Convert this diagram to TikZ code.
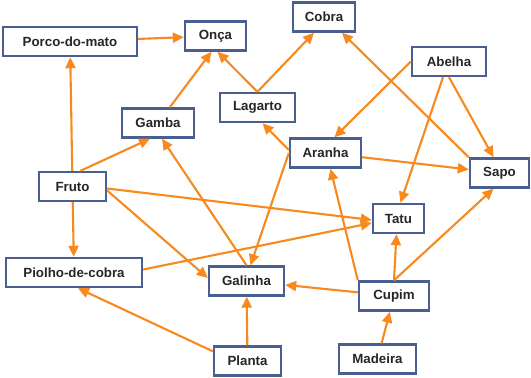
\documentclass[tikz,border=0pt]{standalone}
\usepackage{fontspec}
\setmainfont{Liberation Sans}
\usetikzlibrary{arrows.meta}
\definecolor{borde}{HTML}{4A5F91}
\definecolor{flechas}{HTML}{F7891E}
\definecolor{letra}{HTML}{262626}
\tikzset{
	especie/.style={draw=borde, line width=2.4pt, fill=white, text=letra,
		font=\fontsize{13.3}{15}\selectfont\bfseries, minimum height=29pt, inner sep=0pt},
	flecha/.style={draw=flechas, line width=2.1pt, -{Triangle[length=11pt,width=10pt]}}
}
\begin{document}
\begin{tikzpicture}[x=1pt, y=-1pt]
				\useasboundingbox[fill=white] (0,0) rectangle (531,378);
				\node[especie, minimum width=134pt] (porco)   at (70,41.5)    {Porco-do-mato};
				\node[especie, minimum width=61pt]  (onca)    at (215.5,36)   {Onça};
				\node[especie, minimum width=72pt]  (gamba)   at (158,123)    {Gamba};
				\node[especie, minimum width=75pt]  (lagarto) at (257.5,107.5) {Lagarto};
				\node[especie, minimum width=62pt]  (cobra)   at (324,17)     {Cobra};
				\node[especie, minimum width=74pt]  (abelha)  at (449,61.5)   {Abelha};
				\node[especie, minimum width=71pt]  (aranha)  at (325.5,153)  {Aranha};
				\node[especie, minimum width=59pt]  (sapo)    at (499.5,173)  {Sapo};
				\node[especie, minimum width=67pt]  (fruto)   at (72.5,186.5) {Fruto};
				\node[especie, minimum width=136pt] (piolho)  at (74,272.5)   {Piolho-de-cobra};
				\node[especie, minimum width=75pt]  (galinha) at (246.5,281)  {Galinha};
				\node[especie, minimum width=67pt]  (planta)  at (247.5,361)  {Planta};
				\node[especie, minimum width=51pt]  (tatu)    at (398.5,218.5) {Tatu};
				\node[especie, minimum width=70pt]  (cupim)   at (394,296)    {Cupim};
				\node[especie, minimum width=77pt]  (madeira) at (377.5,359)  {Madeira};
				\foreach \a/\b in {porco/onca, aranha/sapo, fruto/porco, fruto/piolho, planta/galinha, cupim/galinha, madeira/cupim}
					\draw[flecha] (\a) -- (\b);
				\draw[flecha] (gamba) -- ([xshift=-4pt]onca.south);
				\draw[flecha] (lagarto.north) -- ([xshift=2pt]onca.south);
				\draw[flecha] (lagarto.north) -- ([xshift=-10pt]cobra.south);
				\draw[flecha] (sapo.north west) -- ([xshift=18pt]cobra.south);
				\draw[flecha] (abelha.west) -- ([xshift=9pt]aranha.north);
				\draw[flecha] ([xshift=-6pt]abelha.south) -- ([xshift=2pt]tatu.north);
				\draw[flecha] (abelha.south) -- ([xshift=-6pt]sapo.north);
				\draw[flecha] ([yshift=3pt]aranha.west) -- ([xshift=5pt]lagarto.south);
				\draw[flecha] (aranha.west) -- ([xshift=4pt]galinha.north);
				\draw[flecha] (galinha.north) -- ([xshift=4pt]gamba.south);
				\draw[flecha] ([xshift=8pt]fruto.north) -- ([xshift=-8pt]gamba.south);
				\draw[flecha] ([yshift=-2pt]fruto.east) -- ([yshift=-1.5pt]tatu.west);
				\draw[flecha] ([yshift=-4pt]fruto.east) -- ([yshift=3pt]galinha.west);
				\draw[flecha] ([yshift=3pt]piolho.east) -- ([yshift=-4.5pt]tatu.west);
				\draw[flecha] ([yshift=-6pt]planta.north west) -- ([xshift=4pt]piolho.south);
				\draw[flecha] (cupim.north west) -- ([xshift=5pt]aranha.south);
				\draw[flecha] (cupim.north) -- ([xshift=-2pt]tatu.south);
				\draw[flecha] (cupim.north) -- ([xshift=-6pt]sapo.south);
			\end{tikzpicture}
\end{document}
